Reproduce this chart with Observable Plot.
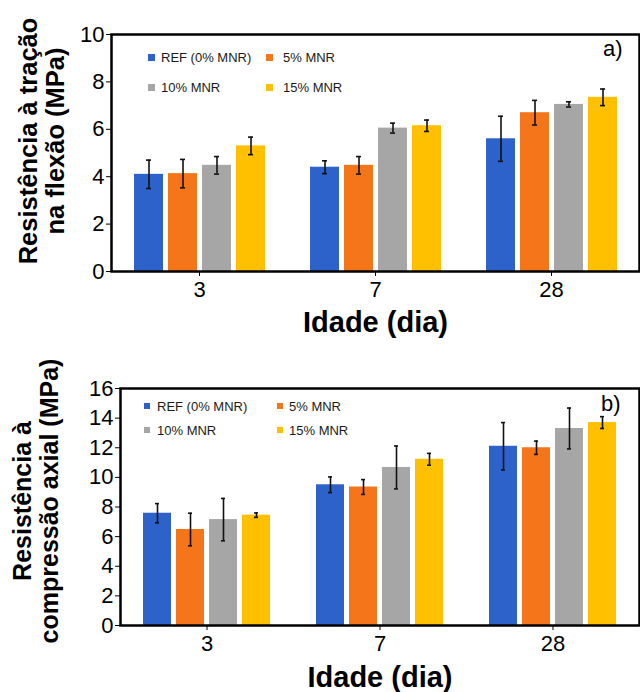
<!DOCTYPE html>
<html><head><meta charset="utf-8">
<script src="https://cdn.jsdelivr.net/npm/d3@7"></script>
<script src="https://cdn.jsdelivr.net/npm/@observablehq/plot@0.6"></script>
<style>
body{margin:0;background:#fff;font-family:"Liberation Sans",Arial,sans-serif;}
.panel{position:relative;width:640px;}
.panel svg{display:block;}
.sw{position:absolute;}
.lt{position:absolute;font-size:13px;color:#1a1a1a;white-space:nowrap;transform:translateY(-50%);line-height:1;}
</style>
</head><body>
<div id="a" class="panel"></div>
<div id="b" class="panel"></div>
<script>
const days = ["3", "7", "28"];
const series = ["REF (0% MNR)", "5% MNR", "10% MNR", "15% MNR"];
const colors = ["#2c62c9", "#f5761a", "#a6a6a6", "#ffc000"];

// Flexural tensile strength (MPa): rows = days, columns = series
const flexMean = [[4.10, 4.13, 4.48, 5.30], [4.40, 4.48, 6.05, 6.15], [5.60, 6.70, 7.05, 7.35]];
const flexErr  = [[0.60, 0.60, 0.37, 0.37], [0.27, 0.37, 0.21, 0.24], [0.95, 0.52, 0.11, 0.35]];
const flexTicks = [0, 2, 4, 6, 8, 10];

// Axial compressive strength (MPa)
const compMean = [[7.58, 6.48, 7.15, 7.45], [9.50, 9.35, 10.67, 11.22], [12.10, 12.00, 13.30, 13.70]];
const compErr  = [[0.65, 1.10, 1.43, 0.15], [0.53, 0.50, 1.45, 0.40], [1.60, 0.45, 1.38, 0.40]];
const compTicks = [0, 2, 4, 6, 8, 10, 12, 14, 16];

const xTitle = "Idade (dia)";
const yTitleA = "Resistência à tração\nna flexão (MPa)";
const yTitleB = "Resistência à\ncompressão axial (MPa)";

function rowsOf(mean, err) {
  const rows = [];
  days.forEach((d, i) => series.forEach((s, j) => rows.push({day: d, series: s, mean: mean[i][j], err: err[i][j]})));
  return rows;
}

function chart(o) {
  const rows = rowsOf(o.mean, o.err);
  return Plot.plot({
    width: 640, height: o.height,
    marginLeft: o.ml, marginRight: 1, marginTop: o.mt, marginBottom: o.mb,
    style: {fontFamily: "'Liberation Sans', Arial, sans-serif", fontSize: "22px", color: "#000", background: "#fff"},
    fx: {domain: days, padding: 0, axis: "bottom", label: null, tickSize: 5, tickPadding: 5},
    x: {domain: series, axis: null, paddingInner: 0.155, paddingOuter: 0.662},
    y: {domain: o.domain, ticks: o.ticks, tickSize: 5, tickPadding: 2, label: null},
    color: {domain: series, range: colors},
    marks: [
      Plot.barY(rows, {fx: "day", x: "series", y: "mean", fill: "series"}),
      Plot.ruleX(rows, {fx: "day", x: "series", y1: d => d.mean - d.err, y2: d => d.mean + d.err, stroke: "#111", strokeWidth: 1.6}),
      Plot.tickY(rows, {fx: "day", x: "series", y: d => d.mean + d.err, stroke: "#111", strokeWidth: 1.6, insetLeft: 12, insetRight: 12}),
      Plot.tickY(rows, {fx: "day", x: "series", y: d => d.mean - d.err, stroke: "#111", strokeWidth: 1.6, insetLeft: 12, insetRight: 12}),
      Plot.frame({facet: "super", stroke: "#000", strokeWidth: 2.5}),
      Plot.text([xTitle], {facet: "super", frameAnchor: "bottom", lineAnchor: "middle", textAnchor: "middle", dy: o.xdy, text: d => d, fontSize: 29, fontWeight: "bold"}),
      Plot.text([o.yTitle], {facet: "super", frameAnchor: "left", lineAnchor: "middle", textAnchor: "middle", dx: o.ydx, dy: o.ydy, rotate: -90, text: d => d, fontSize: o.yfs, fontWeight: "bold", lineHeight: 1.08}),
      Plot.text([o.tag], {facet: "super", frameAnchor: "top-right", lineAnchor: "middle", textAnchor: "end", dx: o.tdx, dy: o.tdy, text: d => d, fontSize: 22})
    ]
  });
}

function legend(el, cols, rowsY, sw) {
  series.forEach((s, i) => {
    const c = cols[i % 2], y = rowsY[Math.floor(i / 2)];
    const b = document.createElement("div");
    b.className = "sw";
    Object.assign(b.style, {left: c[0] + "px", top: (y - sw / 2) + "px", width: sw + "px", height: sw + "px", background: colors[i]});
    const t = document.createElement("div");
    t.className = "lt";
    t.textContent = s;
    Object.assign(t.style, {left: c[1] + "px", top: y + "px"});
    el.append(b, t);
  });
}

const elA = document.getElementById("a");
elA.append(chart({mean: flexMean, err: flexErr, domain: [0, 10], ticks: flexTicks, height: 345, ml: 110, mt: 34, mb: 74,
  xdy: 51, yTitle: yTitleA, ydx: -70, ydy: -12, yfs: 25.5, tag: "a)", tdx: -17, tdy: 14}));
legend(elA, [[148, 161], [266, 283]], [57, 87], 7);

const elB = document.getElementById("b");
elB.append(chart({mean: compMean, err: compErr, domain: [0, 16], ticks: compTicks, height: 347, ml: 120, mt: 43, mb: 67,
  xdy: 52, yTitle: yTitleB, ydx: -85, ydy: -6, yfs: 25, tag: "b)", tdx: -19, tdy: 15}));
legend(elB, [[144, 157], [277, 289]], [61, 85], 6);
</script>
</body></html>
